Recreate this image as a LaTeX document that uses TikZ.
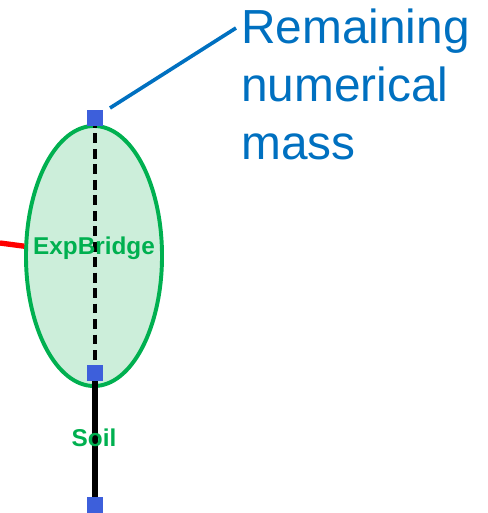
\documentclass[tikz,border=0pt]{standalone}
\usepackage{fontspec}
\setmainfont{Liberation Sans}
\usepackage{xcolor}
\definecolor{bridgegreen}{HTML}{00B050}
\definecolor{bridgefill}{HTML}{CCEEDA}
\definecolor{massblue}{HTML}{3D5FDB}
\definecolor{textblue}{HTML}{0070C0}
\usetikzlibrary{positioning,shapes.geometric}

\begin{document}
\begin{tikzpicture}[
  x=0.025cm, y=-0.025cm,
  bridge/.style={ellipse, draw=bridgegreen, fill=bridgefill, line width=2.8pt,
                 minimum width=3.4cm, minimum height=6.5cm, inner sep=0pt},
  masssq/.style={rectangle, fill=massblue, minimum size=0.4cm, inner sep=0pt},
  partlabel/.style={font=\fontsize{17.3}{19}\selectfont\bfseries, text=bridgegreen, inner sep=0pt},
  axis/.style={black, line width=2.6pt},
]
\useasboundingbox (0,0) rectangle (487,513);

% Bridge ellipse
\node[bridge] (bridge) at (94,256) {};

% Mass points
\coordinate (topsq) at (95,118);
\coordinate (midsq) at (95,373);
\coordinate (botsq) at (95,505);

% Element lines
\draw[axis, dash pattern=on 7pt off 4pt] (topsq) -- (midsq);
\draw[axis, line width=3.6pt] (midsq) -- (botsq);

% Incoming red member
\coordinate (redin) at (0,243);
\draw[red, line width=3.8pt] (redin) -- (bridge.172);

% Squares on top
\node[masssq] (topnode) at (topsq) {};
\node[masssq] (midnode) at (midsq) {};
\node[masssq] (botnode) at (botsq) {};

% Labels
\node[partlabel, anchor=base] (bridgelbl) at (94,254) {ExpBridge};
\node[partlabel, anchor=base] (soillbl) at (94,446) {Soil};

% Callout
\node[anchor=north west, inner sep=0pt, align=left, text=textblue,
      font=\fontsize{34}{41}\selectfont] (masslbl) at (241,9)
  {Remaining\\numerical\\mass};
\coordinate (leadstart) at (110,108);
\coordinate (leadend) at (236,28);
\draw[textblue, line width=2.6pt] (leadstart) -- (leadend);

\end{tikzpicture}
\end{document}
